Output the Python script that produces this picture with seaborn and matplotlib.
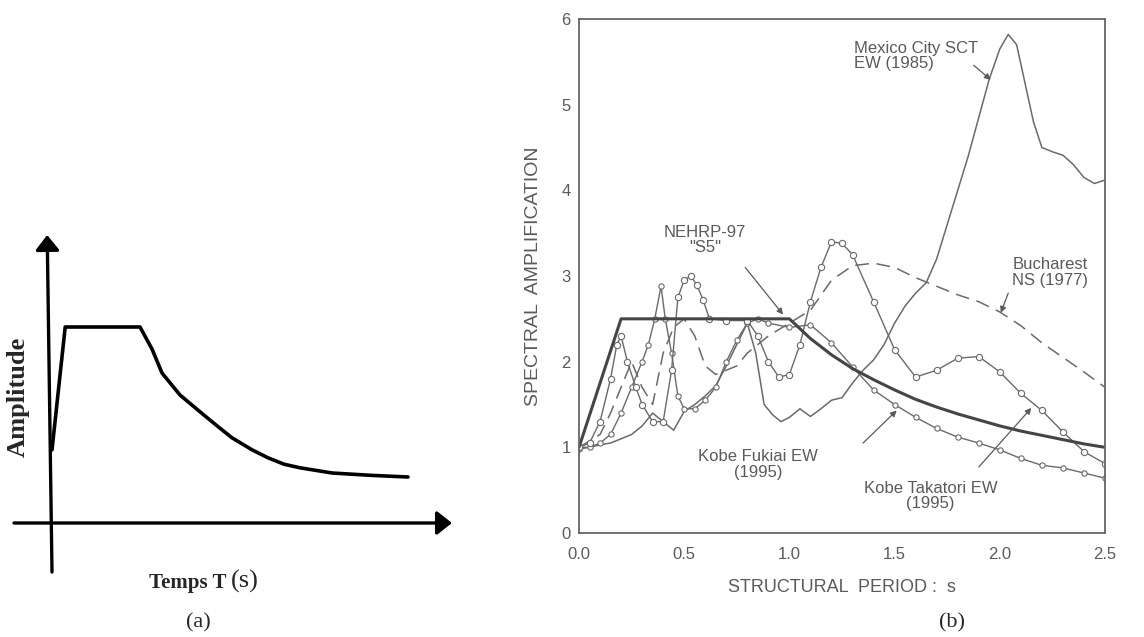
import matplotlib
matplotlib.use("Agg")
import matplotlib.pyplot as plt
import seaborn as sns

# ---------------- data ----------------
# (a) schematic design spectrum (arbitrary units)
sketch_t = [0.0, 0.33, 2.2, 2.5, 2.75, 3.2, 3.7, 4.1, 4.5, 5.0, 5.4, 5.8, 6.2, 7.0, 8.0, 8.9]
sketch_amp = [1.83, 4.9, 4.9, 4.35, 3.75, 3.2, 2.78, 2.45, 2.13, 1.83, 1.63, 1.47, 1.38, 1.25, 1.19, 1.15]

# (b) spectral amplification vs structural period
nehrp_t = [0.0, 0.2, 1.0, 1.1, 1.2, 1.3, 1.4, 1.5, 1.6, 1.7, 1.8, 1.9, 2.0, 2.1, 2.2, 2.3, 2.4, 2.5]
nehrp_v = [1.0, 2.5, 2.5, 2.27, 2.08, 1.92, 1.79, 1.67, 1.56, 1.47, 1.39, 1.32, 1.25, 1.19, 1.14, 1.09, 1.04, 1.0]

mexico_t = [0.0, 0.05, 0.1, 0.15, 0.2, 0.25, 0.3, 0.35, 0.4, 0.45, 0.5, 0.55, 0.6, 0.65,
            0.7, 0.75, 0.8, 0.84, 0.88, 0.92, 0.96, 1.0, 1.05, 1.1, 1.15, 1.2, 1.25,
            1.3, 1.35, 1.4, 1.45, 1.5, 1.55, 1.6, 1.65, 1.7, 1.75, 1.8, 1.85, 1.9,
            1.95, 2.0, 2.04, 2.08, 2.12, 2.16, 2.2, 2.25, 2.3, 2.35, 2.4, 2.45, 2.5]
mexico_v = [1.0, 1.0, 1.03, 1.05, 1.1, 1.15, 1.25, 1.4, 1.3, 1.2, 1.42, 1.5, 1.6, 1.72,
            1.95, 2.2, 2.45, 2.1, 1.5, 1.38, 1.3, 1.35, 1.45, 1.36, 1.45, 1.55, 1.58,
            1.75, 1.9, 2.02, 2.2, 2.45, 2.65, 2.8, 2.92, 3.2, 3.6, 4.0, 4.4, 4.85,
            5.3, 5.65, 5.82, 5.7, 5.25, 4.8, 4.5, 4.45, 4.41, 4.3, 4.15, 4.08, 4.12]

bucharest_t = [0.0, 0.1, 0.15, 0.2, 0.25, 0.3, 0.35, 0.4, 0.45, 0.5, 0.55, 0.6, 0.65, 0.7,
               0.75, 0.8, 0.9, 1.0, 1.1, 1.2, 1.3, 1.4, 1.5, 1.6, 1.7, 1.8, 1.9, 2.0,
               2.1, 2.2, 2.3, 2.4, 2.5]
bucharest_v = [1.0, 1.15, 1.4, 1.7, 2.0, 1.7, 1.5, 2.1, 2.4, 2.5, 2.3, 1.95, 1.85, 1.9,
               1.95, 2.1, 2.3, 2.45, 2.6, 2.95, 3.12, 3.15, 3.1, 2.98, 2.88, 2.78, 2.7, 2.58,
               2.42, 2.22, 2.05, 1.88, 1.7]

fukiai_t = [0.0, 0.05, 0.1, 0.15, 0.2, 0.25, 0.3, 0.33, 0.36, 0.39, 0.41, 0.44, 0.47, 0.5,
            0.55, 0.6, 0.65, 0.7, 0.75, 0.8, 0.85, 0.9, 1.0, 1.1, 1.2, 1.3, 1.4, 1.5,
            1.6, 1.7, 1.8, 1.9, 2.0, 2.1, 2.2, 2.3, 2.4, 2.5]
fukiai_v = [0.98, 1.0, 1.05, 1.15, 1.4, 1.7, 2.0, 2.2, 2.5, 2.88, 2.5, 2.1, 1.6, 1.45,
            1.45, 1.55, 1.7, 2.0, 2.25, 2.45, 2.5, 2.45, 2.4, 2.43, 2.22, 1.94, 1.67, 1.5,
            1.35, 1.22, 1.12, 1.05, 0.97, 0.87, 0.79, 0.76, 0.7, 0.64]

takatori_t = [0.0, 0.05, 0.1, 0.15, 0.18, 0.2, 0.23, 0.27, 0.3, 0.35, 0.4, 0.44, 0.47, 0.5,
              0.53, 0.56, 0.59, 0.62, 0.7, 0.8, 0.85, 0.9, 0.95, 1.0, 1.05, 1.1, 1.15,
              1.2, 1.25, 1.3, 1.4, 1.5, 1.6, 1.7, 1.8, 1.9, 2.0, 2.1, 2.2, 2.3, 2.4, 2.5]
takatori_v = [1.0, 1.05, 1.3, 1.8, 2.2, 2.3, 2.0, 1.7, 1.5, 1.3, 1.3, 1.9, 2.75, 2.95,
              3.0, 2.9, 2.72, 2.5, 2.48, 2.48, 2.3, 2.0, 1.82, 1.85, 2.2, 2.7, 3.1,
              3.4, 3.38, 3.25, 2.7, 2.14, 1.82, 1.9, 2.04, 2.06, 1.88, 1.63, 1.43, 1.18, 0.95, 0.81]

x_ticks = [0.0, 0.5, 1.0, 1.5, 2.0, 2.5]
x_ticklabels = ["0.0", "0.5", "1.0", "1.5", "2.0", "2.5"]
y_ticks = [0, 1, 2, 3, 4, 5, 6]

# ---------------- style ----------------
sns.set_style("white")
plt.rcParams["font.family"] = ["Liberation Sans", "DejaVu Sans"]

W, H = 1144, 637
fig = plt.figure(figsize=(W / 100, H / 100), dpi=100)
fig.patch.set_facecolor("white")

ink = "#5a5a5a"
line_c = "#6a6a6a"
serif = ["Liberation Serif", "DejaVu Serif"]

# ---------------- panel (a) ----------------
ax_a = fig.add_axes([0, 0, 470 / W, 1])
ax_a.set_xlim(-1.3, 10.45)
ax_a.set_ylim(-2.85, 13.075)
ax_a.axis("off")

arrow_kw = dict(arrowstyle="-|>,head_length=0.38,head_width=0.3", color="black",
                lw=2.4, mutation_scale=24, shrinkA=0, shrinkB=0)
ax_a.annotate("", xy=(10.0, 0.0), xytext=(-0.95, 0.0), arrowprops=arrow_kw)
ax_a.annotate("", xy=(-0.12, 7.2), xytext=(0.0, -1.225), arrowprops=arrow_kw)

sns.lineplot(x=sketch_t, y=sketch_amp, ax=ax_a, color="black", lw=2.6,
             sort=False, estimator=None)

ax_a.text(-0.85, 3.15, "Amplitude", rotation=90, ha="center", va="center",
          fontsize=19, fontweight="bold", family=serif)
fig.text(231 / W, 1 - 583 / H, "Temps T ", ha="right", va="center",
         fontsize=15, fontweight="bold", family=serif)
fig.text(231 / W, 1 - 581 / H, "(s)", ha="left", va="center",
         fontsize=19, family=serif)
fig.text(198 / W, 1 - 623 / H, "(a)", ha="center", va="center",
         fontsize=16, family=serif)

# ---------------- panel (b) ----------------
ax_b = fig.add_axes([579 / W, 1 - 533 / H, (1105 - 579) / W, (533 - 19) / H])

sns.lineplot(x=bucharest_t, y=bucharest_v, ax=ax_b, color=line_c, lw=1.1,
             linestyle=(0, (9, 5)), sort=False, estimator=None)
sns.lineplot(x=mexico_t, y=mexico_v, ax=ax_b, color=line_c, lw=1.1,
             sort=False, estimator=None)
sns.lineplot(x=fukiai_t, y=fukiai_v, ax=ax_b, color=line_c, lw=1.0,
             marker="o", markersize=3.8, markerfacecolor="white",
             markeredgecolor=line_c, markeredgewidth=0.8, sort=False, estimator=None)
sns.lineplot(x=takatori_t, y=takatori_v, ax=ax_b, color=line_c, lw=1.0,
             marker="o", markersize=4.5, markerfacecolor="white",
             markeredgecolor=line_c, markeredgewidth=0.8, sort=False, estimator=None)
sns.lineplot(x=nehrp_t, y=nehrp_v, ax=ax_b, color="#454545", lw=2.2,
             sort=False, estimator=None)

ax_b.set_xlim(0, 2.5)
ax_b.set_ylim(0, 6)
ax_b.set_xticks(x_ticks)
ax_b.set_xticklabels(x_ticklabels)
ax_b.set_yticks(y_ticks)
ax_b.tick_params(axis="both", direction="in", length=6, width=1.0, color=ink,
                 labelcolor=ink, labelsize=12)
ax_b.tick_params(axis="x", pad=10)
ax_b.tick_params(axis="y", pad=6)
for s in ax_b.spines.values():
    s.set_color("#666666")
    s.set_linewidth(1.3)

ax_b.set_xlabel("STRUCTURAL  PERIOD :  s", fontsize=13, color=ink, labelpad=12)
ax_b.set_ylabel("SPECTRAL  AMPLIFICATION", fontsize=14, color=ink, labelpad=14)

note_kw = dict(fontsize=12, color=ink, linespacing=1.05)
ax_b.text(1.305, 5.57, "Mexico City SCT\nEW (1985)", ha="left", va="center", **note_kw)
ax_b.text(0.60, 3.42, "NEHRP-97\n\"S5\"", ha="center", va="center", **note_kw)
ax_b.text(2.24, 3.04, "Bucharest\nNS (1977)", ha="center", va="center", **note_kw)
ax_b.text(0.85, 0.80, "Kobe Fukiai EW\n(1995)", ha="center", va="center", **note_kw)
ax_b.text(1.67, 0.43, "Kobe Takatori EW\n(1995)", ha="center", va="center", **note_kw)

pointer = dict(arrowstyle="-|>", color=ink, lw=0.9, mutation_scale=9,
               shrinkA=0, shrinkB=0)
ax_b.annotate("", xy=(1.957, 5.29), xytext=(1.876, 5.46), arrowprops=pointer)
ax_b.annotate("", xy=(0.97, 2.55), xytext=(0.79, 3.10), arrowprops=pointer)
ax_b.annotate("", xy=(2.005, 2.57), xytext=(2.04, 2.80), arrowprops=pointer)
ax_b.annotate("", xy=(1.51, 1.43), xytext=(1.35, 1.05), arrowprops=pointer)
ax_b.annotate("", xy=(2.15, 1.46), xytext=(1.90, 0.77), arrowprops=pointer)

fig.text(952 / W, 1 - 623 / H, "(b)", ha="center", va="center",
         fontsize=16, family=serif)

fig.savefig("out.png", dpi=100, facecolor="white")
